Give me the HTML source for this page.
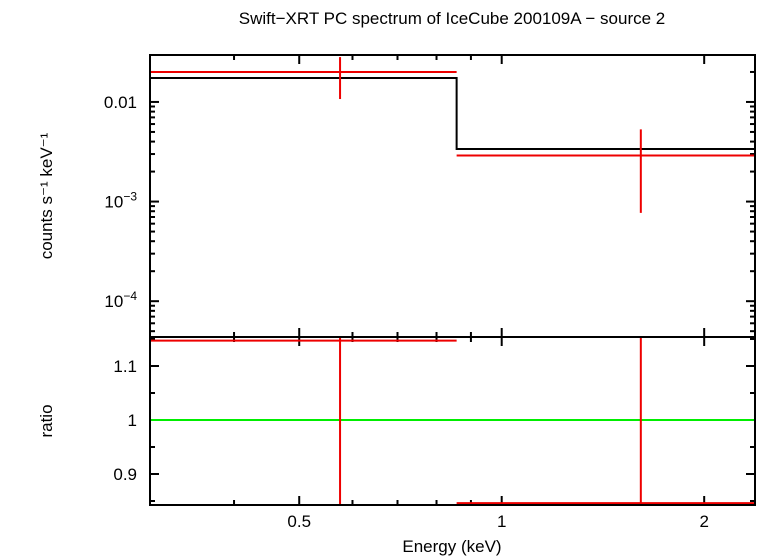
<!DOCTYPE html>
<html><head><meta charset="utf-8"><style>
body{margin:0;background:#fff}
svg{display:block;font-family:"Liberation Sans",sans-serif}
</style></head><body>
<svg id="c" width="758" height="556"></svg>
<script>
const binLo=[0.3,0.857];
const binHi=[0.857,2.38];
const binCenter=[0.575,1.61];
const dataRate=[0.0200,0.0029];
const errHi=[0.0282,0.0053];
const errLo=[0.0107,0.00077];
const modelRate=[0.0174,0.00337];
const ratio=[1.147,0.846];
const ratioErrHi=[1.2,1.2];
const ratioErrLo=[0.8,0.8];
const xTicks=[0.5,1,2];
const xTickLabels=["0.5","1","2"];
const yTicks=[0.01,0.001,0.0001];
const rTicks=[0.9,1,1.1];
const rTickLabels=["0.9","1","1.1"];

const L=150,R=755,T=55,M=337,B=505;
const xMin=0.3,xMax=2.38;
const X=e=>L+(R-L)*Math.log(e/xMin)/Math.log(xMax/xMin);
const yMax=0.0296,yMin=4.37e-5;
const Y=v=>T+(M-T)*Math.log(yMax/v)/Math.log(yMax/yMin);
const rMax=1.1537,rMin=0.8426;
const YR=v=>M+(B-M)*(rMax-v)/(rMax-rMin);
const svg=document.getElementById('c');
const NS='http://www.w3.org/2000/svg';
function el(t,a,name,txt){const e=document.createElementNS(NS,t);for(const k in a)e.setAttribute(k,a[k]);


if(txt!==undefined)e.textContent=txt;svg.appendChild(e);return e;}
function line(x1,y1,x2,y2,c,w,n){return el('line',{x1,y1,x2,y2,stroke:c,'stroke-width':w},n);}
function cl(v,a,b){return Math.max(a,Math.min(b,v));}
// x ticks
for(let e=0.3;e<=2.4;e+=(e<0.95?0.1:1)){
 const v=Math.round(e*10)/10;if(v>xMax)break;
 const maj=[0.5,1,2].includes(v), len=maj?9:5, x=X(v);
 [T,M,B].forEach(y=>{
  if(y!==T)line(x,y,x,y-len,'#000',2,'x-tick');
  if(y!==B)line(x,y,x,y+len,'#000',2,'x-tick');
 });
}
xTicks.forEach((v,i)=>el('text',{x:X(v),y:527,'text-anchor':'middle','font-size':17},'x-tick-label',xTickLabels[i]));
for(let d=-5;d<=-1;d++)for(let m=1;m<10;m++){
 const v=m*Math.pow(10,d); if(v<yMin||v>yMax)continue;
 const len=m===1?9:5,y=Y(v);
 line(L,y,L+len,y,'#000',2,'y-tick');line(R,y,R-len,y,'#000',2,'y-tick');
}
const yl=[['0.01',''],['10','−3'],['10','−4']];
yTicks.forEach((v,i)=>{const t=el('text',{x:137,y:Y(v)+6,'text-anchor':'end','font-size':17},'y-tick-label',yl[i][0]);
 if(yl[i][1]){const s=document.createElementNS(NS,'tspan');s.setAttribute('dy','-7');s.setAttribute('font-size','12');s.textContent=yl[i][1];t.appendChild(s);}});
for(let v=0.85;v<=1.151;v+=0.05){const r=Math.round(v*100)/100;const maj=[0.9,1,1.1].includes(r),len=maj?9:5,y=YR(r);
 line(L,y,L+len,y,'#000',2,'r-tick');line(R,y,R-len,y,'#000',2,'r-tick');}
rTicks.forEach((v,i)=>el('text',{x:137,y:YR(v)+6,'text-anchor':'end','font-size':17},'ratio-tick-label',rTickLabels[i]));
// green ratio line
line(L,YR(1),R,YR(1),'#00ee00',2,'unity-line');
// model
el('path',{d:`M${L},${Y(modelRate[0])}H${X(binHi[0])}V${Y(modelRate[1])}H${R}`,fill:'none',stroke:'#000','stroke-width':2},'model-line');
for(let i=0;i<2;i++){
 line(cl(X(binLo[i]),L,R),Y(dataRate[i]),cl(X(binHi[i]),L,R),Y(dataRate[i]),'#e00',2,'data-bin-'+i);
 line(X(binCenter[i]),cl(Y(errHi[i]),T,M),X(binCenter[i]),cl(Y(errLo[i]),T,M),'#e00',2,'data-err-'+i);
 line(cl(X(binLo[i]),L,R),cl(YR(ratio[i]),M,B),cl(X(binHi[i]),L,R),cl(YR(ratio[i]),M,B),'#e00',2,'ratio-bin-'+i);
 line(X(binCenter[i]),cl(YR(ratioErrHi[i]),M,B),X(binCenter[i]),cl(YR(ratioErrLo[i]),M,B),'#e00',2,'ratio-err-'+i);
}
el('rect',{x:L,y:T,width:R-L,height:B-T,fill:'none',stroke:'#000','stroke-width':2},'frame');
line(L,M,R,M,'#000',2,'panel-divider');
el('text',{x:452,y:24,'text-anchor':'middle','font-size':17},'chart-title','Swift−XRT PC spectrum of IceCube 200109A − source 2');
el('text',{x:452,y:552,'text-anchor':'middle','font-size':17},'x-axis-title','Energy (keV)');
el('text',{x:52,y:196,'text-anchor':'middle','font-size':17,transform:'rotate(-90 52 196)'},'y-axis-title','counts s⁻¹ keV⁻¹');
el('text',{x:52,y:421,'text-anchor':'middle','font-size':17,transform:'rotate(-90 52 421)'},'ratio-axis-title','ratio');
</script>
</body></html>
